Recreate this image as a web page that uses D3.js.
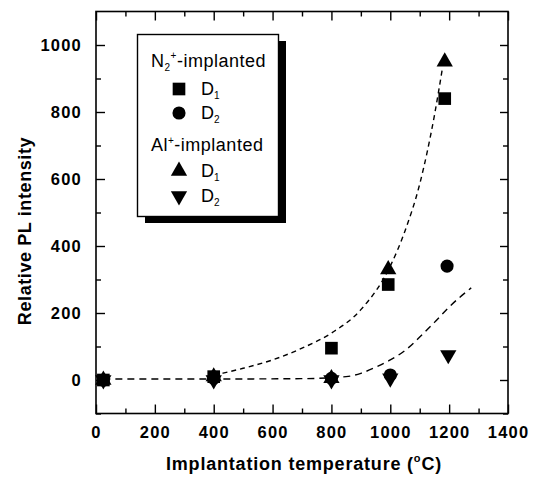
<!DOCTYPE html>
<html>
<head>
<meta charset="utf-8">
<title>Relative PL intensity</title>
<script src="https://cdn.jsdelivr.net/npm/d3@7"></script>
<style>
  body { margin: 0; background: #fff; }
  text { font-family: "Liberation Sans", Arial, Helvetica, sans-serif; fill: #000; }
</style>
</head>
<body>
<script>
// values
var tempN2D1 = [25, 400, 800, 993, 1185];
var valN2D1  = [0, 10, 95, 285, 840];
var tempN2D2 = [25, 400, 800, 1000, 1193];
var valN2D2  = [0, 5, 5, 15, 340];
var tempAlD1 = [25, 400, 800, 993, 1185];
var valAlD1  = [0, 10, 5, 330, 950];
var tempAlD2 = [25, 400, 800, 1000, 1197];
var valAlD2  = [0, 0, 0, 5, 75];

// dashed guide curves
var fitUpperT = [430, 500, 600, 700, 800, 900, 1000, 1050, 1100, 1150, 1178];
var fitUpperV = [20, 35, 60, 95, 140, 210, 340, 445, 585, 790, 935];
var fitLowerT = [25, 400, 700, 850, 900, 950, 1000, 1050, 1100, 1150, 1200, 1275];
var fitLowerV = [3, 3, 4, 10, 20, 38, 60, 88, 128, 172, 218, 275];

var xMajor = [0, 200, 400, 600, 800, 1000, 1200, 1400];
var xMinor = [100, 300, 500, 700, 900, 1100, 1300];
var yMajor = [0, 200, 400, 600, 800, 1000];
var yMinor = [-100, 100, 300, 500, 700, 900];

var W = 536, H = 479;
var pLeft = 96, pRight = 508, pTop = 11.5, pBottom = 413.5;

var svg = d3.select("body").append("svg")
  .attr("width", W).attr("height", H);
svg.append("rect").attr("width", W).attr("height", H).attr("fill", "#fff");

var x = d3.scaleLinear().domain([0, 1400]).range([pLeft, pRight]);
var y = d3.scaleLinear().domain([-100, 1100]).range([pBottom, pTop]);
var fmt = d3.format("d");

// axes, ticks pointing inward
function axisGroup(axis, tx, ty) {
  var g = svg.append("g")
    .attr("transform", "translate(" + tx + "," + ty + ")")
    .call(axis);
  g.select(".domain").remove();
  g.selectAll("line").attr("stroke", "#000").attr("stroke-width", 1.4);
  return g;
}

var bx = axisGroup(d3.axisBottom(x).tickValues(xMajor).tickFormat(fmt).tickSize(-9).tickPadding(13), 0, pBottom);
bx.selectAll("text").attr("font-size", 16.5).attr("font-weight", "bold").attr("letter-spacing", 1.2);
axisGroup(d3.axisBottom(x).tickValues(xMinor).tickSize(-5).tickFormat(""), 0, pBottom);
axisGroup(d3.axisTop(x).tickValues(xMajor).tickSize(-9).tickFormat(""), 0, pTop);
axisGroup(d3.axisTop(x).tickValues(xMinor).tickSize(-5).tickFormat(""), 0, pTop);

var ly = axisGroup(d3.axisLeft(y).tickValues(yMajor).tickFormat(fmt).tickSize(-9).tickPadding(14), pLeft, 0);
ly.selectAll("text").attr("font-size", 16.5).attr("font-weight", "bold").attr("letter-spacing", 1.2);
axisGroup(d3.axisLeft(y).tickValues(yMinor).tickSize(-5).tickFormat(""), pLeft, 0);
axisGroup(d3.axisRight(y).tickValues(yMajor).tickSize(-8).tickFormat(""), pRight, 0);
axisGroup(d3.axisRight(y).tickValues(yMinor).tickSize(-5).tickFormat(""), pRight, 0);

// frame
svg.append("rect")
  .attr("x", pLeft).attr("y", pTop)
  .attr("width", pRight - pLeft).attr("height", pBottom - pTop)
  .attr("fill", "none").attr("stroke", "#000").attr("stroke-width", 1.6);

// axis titles
var xt = svg.append("text")
  .attr("x", (pLeft + pRight) / 2 + 2).attr("y", 470)
  .attr("text-anchor", "middle")
  .attr("font-size", 18).attr("font-weight", "bold").attr("letter-spacing", 0.8);
xt.append("tspan").text("Implantation temperature (");
xt.append("tspan").attr("font-size", 11).attr("dy", -8).text("o");
xt.append("tspan").attr("dy", 8).text("C)");

svg.append("text")
  .attr("transform", "translate(31,231) rotate(-90)")
  .attr("text-anchor", "middle")
  .attr("font-size", 18).attr("font-weight", "bold").attr("letter-spacing", 0.6)
  .text("Relative PL intensity");

// dashed curves
var line = d3.line()
  .x(function(d) { return x(d[0]); })
  .y(function(d) { return y(d[1]); })
  .curve(d3.curveMonotoneX);

svg.append("path")
  .datum(d3.zip(fitLowerT, fitLowerV))
  .attr("d", line)
  .attr("fill", "none").attr("stroke", "#000")
  .attr("stroke-width", 1.4).attr("stroke-dasharray", "7,5");

svg.append("path")
  .datum(d3.zip(fitUpperT, fitUpperV))
  .attr("d", line)
  .attr("fill", "none").attr("stroke", "#000")
  .attr("stroke-width", 1.4).attr("stroke-dasharray", "5,4");

// markers
var sym = {
  square: d3.symbol().type(d3.symbolSquare).size(160),
  circle: d3.symbol().type(d3.symbolCircle).size(135),
  up: d3.symbol().type(d3.symbolTriangle).size(115),
  down: d3.symbol().type(d3.symbolTriangle).size(115)
};

function drawSeries(ts, vs, kind) {
  svg.append("g").selectAll("path")
    .data(d3.zip(ts, vs))
    .enter().append("path")
    .attr("d", sym[kind])
    .attr("fill", "#000")
    .attr("transform", function(d) {
      return "translate(" + x(d[0]) + "," + y(d[1]) + ")" + (kind == "down" ? " rotate(180)" : "");
    });
}

drawSeries(tempAlD2, valAlD2, "down");
drawSeries(tempN2D2, valN2D2, "circle");
drawSeries(tempN2D1, valN2D1, "square");
drawSeries(tempAlD1, valAlD1, "up");

// legend
var lg = svg.append("g");
lg.append("rect").attr("x", 145).attr("y", 41).attr("width", 141).attr("height", 182).attr("fill", "#000");
lg.append("rect").attr("x", 137.5).attr("y", 34.5).attr("width", 141).attr("height", 182)
  .attr("fill", "#fff").attr("stroke", "#000").attr("stroke-width", 1.4);

function groupTitle(yy, main, sub, sup, rest) {
  var t = lg.append("text").attr("x", 151).attr("y", yy).attr("font-size", 18).attr("letter-spacing", 0.5);
  t.append("tspan").text(main);
  if (sub) t.append("tspan").attr("font-size", 10).attr("dy", 4).text(sub);
  t.append("tspan").attr("font-size", 10).attr("dy", sub ? -12 : -7).text(sup);
  t.append("tspan").attr("dy", sub ? 8 : 7).text(rest);
}

function legendItem(yy, kind, idx) {
  lg.append("path")
    .attr("d", sym[kind])
    .attr("fill", "#000")
    .attr("transform", "translate(179," + yy + ")" + (kind == "down" ? " rotate(180)" : ""));
  var t = lg.append("text").attr("x", 201).attr("y", yy + 6).attr("font-size", 18);
  t.append("tspan").text("D");
  t.append("tspan").attr("font-size", 10).attr("dy", 4).text(idx);
}

groupTitle(67, "N", "2", "+", "-implanted");
legendItem(89, "square", "1");
legendItem(113, "circle", "2");
groupTitle(151, "Al", null, "+", "-implanted");
legendItem(171, "up", "1");
legendItem(196, "down", "2");
</script>
</body>
</html>
